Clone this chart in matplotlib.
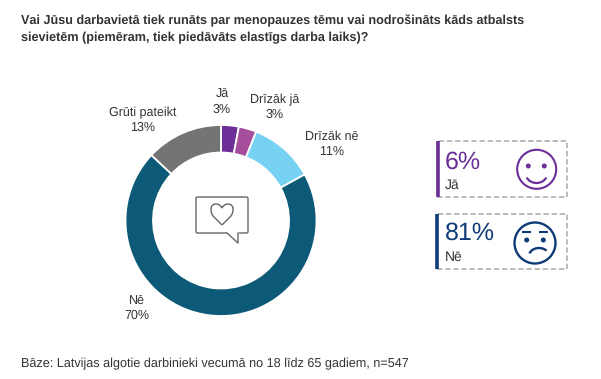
import matplotlib.patches as patches
import matplotlib.pyplot as plt
from matplotlib.path import Path

plt.rcParams["font.family"] = ["Liberation Sans", "DejaVu Sans"]
plt.rcParams["text.hinting"] = "none"
plt.rcParams["text.kerning_factor"] = 6

title = (
    "Vai Jūsu darbavietā tiek runāts par menopauzes tēmu vai nodrošināts kāds atbalsts\n"
    "sievietēm (piemēram, tiek piedāvāts elastīgs darba laiks)?"
)
footer = "Bāze: Latvijas algotie darbinieki vecumā no 18 līdz 65 gadiem, n=547"

labels = ["Jā", "Drīzāk jā", "Drīzāk nē", "Nē", "Grūti pateikt"]
values = [3, 3, 11, 70, 13]
colors = ["#6b2f97", "#a64d9c", "#76d1f3", "#0d5a78", "#747474"]

summary_labels = ["Jā", "Nē"]
summary_values = [6, 81]
summary_colors = ["#6b2f97", "#0f3a78"]

H = 379
TEXT = "#333333"


def py(y):
    return H - y


fig = plt.figure(figsize=(6.01, 3.79), dpi=100)
ax = fig.add_axes([0, 0, 1, 1])

ax.pie(
    values,
    colors=colors,
    center=(221, py(220.5)),
    radius=95.5,
    startangle=90,
    counterclock=False,
    frame=True,
    wedgeprops=dict(width=27.5, edgecolor="white", linewidth=1.3),
)
ax.set_xlim(0, 601)
ax.set_ylim(0, H)
ax.set_aspect("equal")
ax.axis("off")

ax.text(21, py(15), title, fontsize=9.08, fontweight="bold", color=TEXT,
        va="top", ha="left", linespacing=1.45)
ax.text(21, py(364), footer, fontsize=9.07, color=TEXT, va="center", ha="left")

label_pos = [(222, 102), (275, 107), (332, 144), (137, 308.5), (143, 120)]
for name, val, (x, y) in zip(labels, values, label_pos):
    ax.text(x, py(y), f"{name}\n{val}%", fontsize=9, color=TEXT,
            ha="center", va="center", linespacing=1.25)

# speech bubble with heart
bubble = patches.FancyBboxPatch(
    (196, py(233)), 52, 36, boxstyle="round,pad=0,rounding_size=1.5",
    fc="white", ec="#666666", lw=1,
)
ax.add_patch(bubble)
ax.plot([227.5, 237.5], [py(233), py(233)], color="white", lw=1.6)
ax.plot([227, 238, 238], [py(233), py(243), py(233)], color="#666666", lw=1)

heart_verts = [
    (222, 225), (214, 217),
    (211, 214), (211, 211), (211, 209),
    (211, 206), (213, 204), (216, 204),
    (219, 204), (221, 206), (222, 208),
    (223, 206), (225, 204), (228, 204),
    (231, 204), (233, 206), (233, 209),
    (233, 211), (233, 214), (230, 217),
    (222, 225),
]
heart_codes = [Path.MOVETO, Path.LINETO] + [Path.CURVE4] * 18 + [Path.LINETO]
heart_verts = [(x, py(y)) for x, y in heart_verts]
ax.add_patch(patches.PathPatch(Path(heart_verts, heart_codes), fc="none", ec="#666666", lw=1))

# summary boxes
box_tops = [141, 213.5]
bar_x = [437.5, 436.5]
value_y = [162, 233]
label_y = [185, 257]
for top, bx, vy, ly, lab, val, col in zip(
    box_tops, bar_x, value_y, label_y, summary_labels, summary_values, summary_colors
):
    ax.add_patch(patches.Rectangle(
        (437, py(top + 55.5)), 130, 55.5, fc="none", ec="#b5b5b5", lw=1.3, ls=(0, (3, 1.5)),
    ))
    ax.plot([bx, bx], [py(top), py(top + 55.5)], color=col, lw=2.6, solid_capstyle="butt")
    ax.text(445, py(vy), f"{val}%", fontsize=18, color=col, ha="left", va="center")
    ax.text(445, py(ly), lab, fontsize=10, color=TEXT, ha="left", va="center")

# smiling face
col = summary_colors[0]
ax.add_patch(patches.Circle((536.7, py(169.3)), 19.5, fc="none", ec=col, lw=1.5))
ax.add_patch(patches.Circle((528.3, py(166)), 2.5, fc=col, ec="none"))
ax.add_patch(patches.Circle((544.3, py(166)), 2.5, fc=col, ec="none"))
ax.add_patch(patches.Arc((536.5, py(173)), 22, 20, theta1=205, theta2=335, ec=col, lw=1.6))

# sad face
col = summary_colors[1]
ax.add_patch(patches.Circle((535, py(243)), 20.5, fc="none", ec=col, lw=1.7))
ax.add_patch(patches.Circle((526.7, py(240)), 2.5, fc=col, ec="none"))
ax.add_patch(patches.Circle((543.3, py(240)), 2.5, fc=col, ec="none"))
ax.plot([523, 530], [py(231.7), py(231.7)], color=col, lw=1.5)
ax.plot([540, 547], [py(231.7), py(231.7)], color=col, lw=1.5)
ax.add_patch(patches.Arc((539, py(256)), 20, 16, theta1=35, theta2=165, ec=col, lw=1.7))

fig.savefig("out.png", dpi=100)
